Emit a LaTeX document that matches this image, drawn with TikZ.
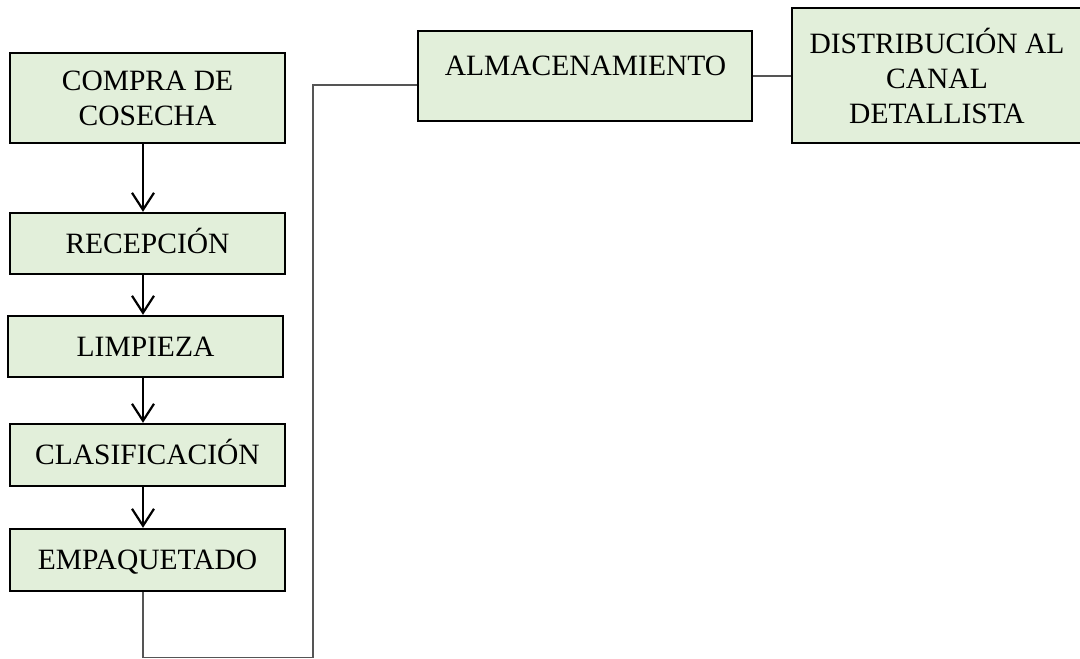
\documentclass[tikz,border=0pt]{standalone}
\usepackage{fontspec}
\setmainfont{Liberation Serif}
\usetikzlibrary{arrows.meta}
\definecolor{stepfill}{HTML}{E2EFDA}
\definecolor{linkgray}{HTML}{555555}
\begin{document}
\begin{tikzpicture}[x=1pt,y=-1pt,
  stepbox/.style={draw=black,line width=2.4pt,fill=stepfill,inner sep=0pt,
    align=center,font=\fontsize{29.5}{35}\selectfont},
  oneline/.style={text height=19.5pt,text depth=0pt},
  flow/.style={line width=2.2pt,-{Straight Barb[length=17pt,width=22pt,line width=2.2pt]}},
  link/.style={draw=linkgray,line width=1.3pt},
  label/.style={inner sep=0pt,font=\fontsize{29.5}{35}\selectfont,text height=19.5pt,text depth=0pt}]
\useasboundingbox (0,0) rectangle (1080,659);

% left column of process steps
\node[stepbox,minimum width=275pt,minimum height=90pt] (c1) at (147.5,98) {COMPRA DE\\COSECHA};
\node[stepbox,oneline,minimum width=275pt,minimum height=61pt] (c2) at (147.5,243.5) {RECEPCIÓN};
\node[stepbox,oneline,minimum width=275pt,minimum height=61pt] (c3) at (145.5,346.5) {LIMPIEZA};
\node[stepbox,oneline,minimum width=275pt,minimum height=62pt] (c4) at (147.5,455) {CLASIFICACIÓN};
\node[stepbox,oneline,minimum width=275pt,minimum height=62pt] (c5) at (147.5,560) {EMPAQUETADO};

% top row
\node[stepbox,minimum width=334pt,minimum height=90pt] (alm) at (585,76) {};
\node[label] (almtext) at (585.5,66) {ALMACENAMIENTO};
\node[stepbox,minimum width=290pt,minimum height=135pt] (dist) at (937,75.5) {DISTRIBUCIÓN AL\\CANAL\\DETALLISTA};

% arrows down the column
\coordinate (ax) at (143,0);
\draw[flow] (c1.south -| ax) -- (c2.north -| ax);
\draw[flow] (c2.south -| ax) -- (c3.north -| ax);
\draw[flow] (c3.south -| ax) -- (c4.north -| ax);
\draw[flow] (c4.south -| ax) -- (c5.north -| ax);

% elbow link from the column to storage, and on to distribution
\coordinate (e1) at (143,657.5);
\coordinate (e2) at (313,657.5);
\draw[link] (c5.south -| ax) -- (e1) -- (e2) |- ([yshift=-9pt]alm.west);
\draw[link] (alm.east) -- (alm.east -| dist.west);
\end{tikzpicture}
\end{document}
